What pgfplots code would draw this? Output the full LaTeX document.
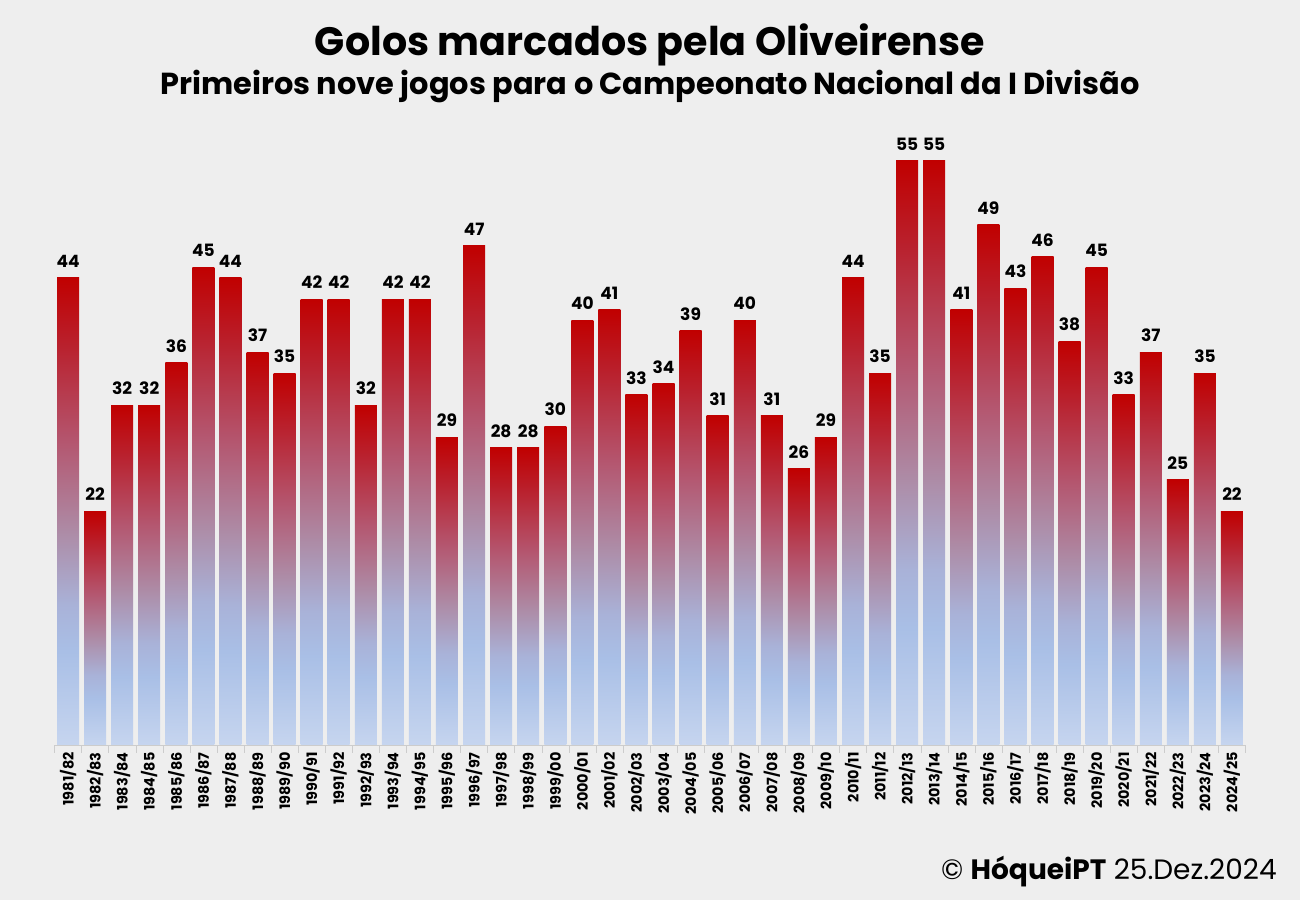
\documentclass[border=0pt]{standalone}
\usepackage{pgfplots}
\pgfplotsset{compat=1.18}
\usepackage{pgfplotstable}
\usepackage{fontspec}
\setmainfont{Poppins}
\definecolor{bg}{HTML}{EEEEEE}
\definecolor{sA}{HTML}{C6D5EF}
\definecolor{sB}{HTML}{A9BFE6}
\definecolor{sC}{HTML}{A9B2D8}
\definecolor{sD}{HTML}{AD8DA8}
\definecolor{sE}{HTML}{B4566F}
\definecolor{sF}{HTML}{B9222F}
\definecolor{sG}{HTML}{C00000}
\pgfdeclareverticalshading{barshade}{100bp}{color(0bp)=(sA); color(25bp)=(sA); color(35bp)=(sB); color(40bp)=(sC); color(47.5bp)=(sD); color(57.5bp)=(sE); color(67.5bp)=(sF); color(75bp)=(sG); color(100bp)=(sG)}
\pgfplotstableread{
x y
0 44
1 22
2 32
3 32
4 36
5 45
6 44
7 37
8 35
9 42
10 42
11 32
12 42
13 42
14 29
15 47
16 28
17 28
18 30
19 40
20 41
21 33
22 34
23 39
24 31
25 40
26 31
27 26
28 29
29 44
30 35
31 55
32 55
33 41
34 49
35 43
36 46
37 38
38 45
39 33
40 37
41 25
42 35
43 22
}\goals
\begin{document}
\begin{tikzpicture}[x=1bp,y=1bp]
\fill[bg] (0,0) rectangle (650,450);
\node[anchor=base,font=\bfseries\fontsize{19.8bp}{24bp}\selectfont] at (325,422) {Golos marcados pela Oliveirense};
\node[anchor=base,font=\bfseries\fontsize{15.2bp}{18bp}\selectfont] at (325,402.5) {Primeiros nove jogos para o Campeonato Nacional da I Divisão};
\node[anchor=base east,font=\fontsize{14bp}{16bp}\selectfont,inner sep=0pt] at (638.5,10) {© \textbf{HóqueiPT} 25.Dez.2024};
\begin{axis}[
  at={(27.25bp,77.5bp)}, anchor=south west,
  scale only axis, width=595.5bp, height=292bp,
  xmin=-0.5, xmax=43.5, ymin=0, ymax=55,
  clip=false,
  axis x line*=bottom, axis y line=none,
  x axis line style={draw=black!20, -},
  xtick={0,...,43},
  xticklabels={1981/82,1982/83,1983/84,1984/85,1985/86,1986/87,1987/88,1988/89,1989/90,1990/91,1991/92,1992/93,1993/94,1994/95,1995/96,1996/97,1997/98,1998/99,1999/00,2000/01,2001/02,2002/03,2003/04,2004/05,2005/06,2006/07,2007/08,2008/09,2009/10,2010/11,2011/12,2012/13,2013/14,2014/15,2015/16,2016/17,2017/18,2018/19,2019/20,2020/21,2021/22,2022/23,2023/24,2024/25},
  major tick length=0pt,
  minor xtick={-0.5,0.5,...,43.5},
  minor tick length=4bp,
  tick align=center,
  minor tick style={draw=black!20},
  xticklabel style={rotate=90, anchor=east, font=\bfseries\fontsize{7.2bp}{8bp}\selectfont, inner sep=0pt},
  xticklabel shift=3.5bp,
  /pgf/number format/assume math mode=true,
  ybar, bar width=11bp, bar shift=0pt,
  unbounded coords=discard,
  nodes near coords={\pgfmathprintnumber{\pgfplotspointmeta}},
  nodes near coords style={font=\bfseries\fontsize{8.5bp}{10bp}\selectfont, inner sep=0pt, anchor=south, yshift=5bp},
]
\pgfplotsinvokeforeach{0,...,43}{
  \addplot[draw=none, /tikz/shade, /tikz/shading=barshade, restrict x to domain=#1:#1] table[x=x,y=y] {\goals};
}
\end{axis}
\end{tikzpicture}
\end{document}
